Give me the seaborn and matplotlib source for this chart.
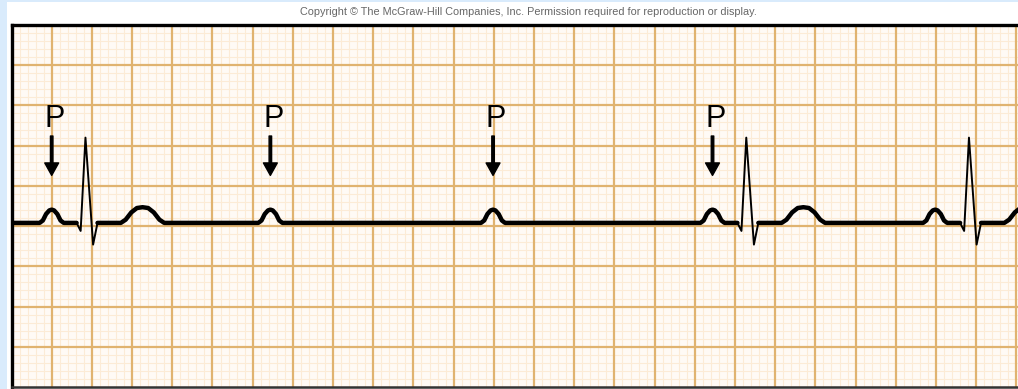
import numpy as np
import pandas as pd
import matplotlib
matplotlib.use("Agg")
import matplotlib.pyplot as plt
import seaborn as sns
from matplotlib.patches import Rectangle

# --- ECG strip data (units: small boxes = 1 mm) ---
P_TIMES = [5.0, 32.2, 59.9, 87.2, 114.9]        # P wave peaks
CONDUCTED = [True, False, False, True, True]    # P followed by a QRS?
ARROW_BEATS = [0, 1, 2, 3]                      # P waves marked with an arrow
BASELINE = 20.4

# wave shapes, offsets from P peak (x) and from baseline (y)
P_DX = [-1.5, -1.1, -0.7, -0.3, 0.0, 0.3, 0.7, 1.1, 1.5]
P_DY = [0.0, 0.3, 1.1, 1.55, 1.65, 1.55, 1.1, 0.3, 0.0]
QRS_DX = [3.1, 3.6, 4.2, 5.15, 5.7]
QRS_DY = [0.0, -1.0, 10.6, -2.7, 0.0]
T_DX = [8.6, 9.2, 9.9, 10.6, 11.3, 12.0, 12.7, 13.4, 14.0]
T_DY = [0.0, 0.4, 1.3, 1.85, 1.95, 1.85, 1.3, 0.4, 0.0]

X_MAX = 125.2
Y_MAX = 45.0
LABEL = "P"
COPYRIGHT = "Copyright \u00a9 The McGraw-Hill Companies, Inc. Permission required for reproduction or display."


def build_trace():
    thick, thin = [], []
    seg, qseg = 0, 0
    thick.append((0.0, BASELINE, seg))
    for p, cond in zip(P_TIMES, CONDUCTED):
        for dx, dy in zip(P_DX, P_DY):
            thick.append((p + dx, BASELINE + dy, seg))
        if cond:
            thick.append((p + QRS_DX[0], BASELINE + QRS_DY[0], seg))
            for dx, dy in zip(QRS_DX, QRS_DY):
                thin.append((p + dx, BASELINE + dy, qseg))
            qseg += 1
            seg += 1
            thick.append((p + QRS_DX[-1], BASELINE, seg))
            for dx, dy in zip(T_DX, T_DY):
                thick.append((p + dx, BASELINE + dy, seg))
    thick.append((X_MAX + 5, BASELINE, seg))
    cols = ["x", "y", "seg"]
    return pd.DataFrame(thick, columns=cols), pd.DataFrame(thin, columns=cols)


df_thick, df_thin = build_trace()

sns.set_style("white")
plt.rcParams["font.family"] = ["Liberation Sans", "DejaVu Sans"]

fig = plt.figure(figsize=(10.18, 3.89), dpi=100)
fig.patch.set_facecolor("#d9ebfc")
fig.add_artist(Rectangle((7 / 1018, 0), 1, 1 - 2 / 389, transform=fig.transFigure,
                         facecolor="white", edgecolor="none", zorder=-10))
ax = fig.add_axes([11.5 / 1018, 2 / 389, 1006.5 / 1018, 362 / 389])
ax.set_facecolor("#fffaf5")

# ECG paper grid: small boxes first, then the 5 mm boxes on top
for v in np.arange(1, X_MAX, 1):
    if v % 5:
        ax.axvline(v, color="#fcebd6", lw=0.8, zorder=0.1)
for v in np.arange(1, Y_MAX, 1):
    if v % 5:
        ax.axhline(v, color="#fcebd6", lw=0.8, zorder=0.1)
for v in np.arange(5, X_MAX, 5):
    ax.axvline(v, color="#e0b370", lw=1.6, zorder=0.2)
for v in np.arange(5, Y_MAX, 5):
    ax.axhline(v, color="#e0b370", lw=1.6, zorder=0.2)

sns.lineplot(data=df_thick, x="x", y="y", units="seg", estimator=None, sort=False,
             color="black", lw=3.2, ax=ax, solid_capstyle="round", solid_joinstyle="round")
sns.lineplot(data=df_thin, x="x", y="y", units="seg", estimator=None, sort=False,
             color="black", lw=1.4, ax=ax)

# arrows and labels
for i in ARROW_BEATS:
    px = P_TIMES[i]
    ax.annotate("", xy=(px, 26.3), xytext=(px, 31.2),
                arrowprops=dict(facecolor="black", edgecolor="black", width=1.8,
                                headwidth=10, headlength=9, shrink=0))
    ax.text(px + 0.35, 33.3, LABEL, ha="center", va="center", fontsize=22, color="black")

ax.set_xlim(0, X_MAX)
ax.set_ylim(0, Y_MAX)
ax.set_xticks([])
ax.set_yticks([])
ax.set_xlabel("")
ax.set_ylabel("")

for side in ["left", "top"]:
    ax.spines[side].set_color("black")
    ax.spines[side].set_linewidth(2.4)
ax.spines["bottom"].set_color("#333333")
ax.spines["bottom"].set_linewidth(1.8)
ax.spines["right"].set_visible(False)

fig.text(528 / 1018, 1 - 12 / 389, COPYRIGHT, ha="center", va="center",
         fontsize=7.8, color="#666666")

fig.savefig("out.png", dpi=100, facecolor=fig.get_facecolor())
